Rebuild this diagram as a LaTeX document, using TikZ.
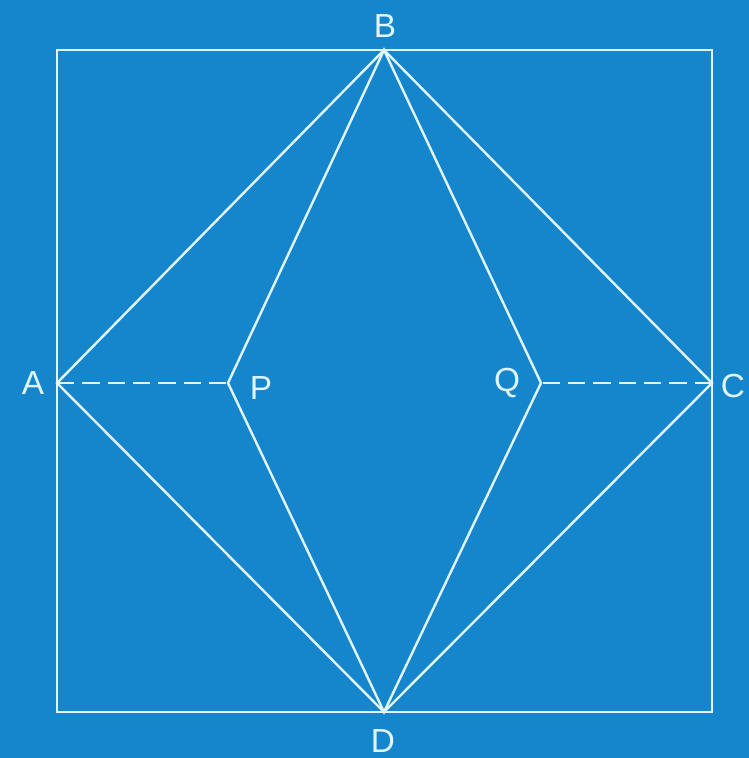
\documentclass[tikz,border=0pt]{standalone}
\usepackage{fontspec}
\setmainfont{Liberation Sans}
\usetikzlibrary{positioning,calc}
\definecolor{boardblue}{RGB}{22,134,204}
\definecolor{chalk}{RGB}{225,245,255}

\begin{document}
\begin{tikzpicture}[x=0.75pt,y=-0.75pt,font=\fontsize{25}{28}\selectfont,
    chalkline/.style={draw=chalk,line width=1.8pt},
    lbl/.style={text=chalk,inner sep=0pt}]
  % background board
  \fill[boardblue] (0,0) rectangle (749,758);
  \useasboundingbox (0,0) rectangle (749,758);
  % outer square
  \draw[chalkline] (57,50) rectangle (712,712);
  % vertices
  \coordinate (A) at (57,383);
  \coordinate (B) at (384,50);
  \coordinate (C) at (712,383);
  \coordinate (D) at (384,712);
  \coordinate (P) at (228,383);
  \coordinate (Q) at (541,383);
  % outer rhombus ABCD
  \draw[chalkline] (A) -- (B) -- (C) -- (D) -- cycle;
  % inner figure B-P-D-Q
  \draw[chalkline] (B) -- (P) -- (D) -- (Q) -- cycle;
  % dashed joins
  \draw[chalkline,dash pattern=on 13pt off 6pt] (A) -- (P);
  \draw[chalkline,dash pattern=on 13pt off 6pt] (C) -- (Q);
  % labels
  \node[lbl] (lA) at (33,383) {A};
  \node[lbl] (lB) at (385,26) {B};
  \node[lbl] (lC) at (733,386) {C};
  \node[lbl] (lD) at (383,741) {D};
  \node[lbl] (lP) at (261,388) {P};
  \node[lbl] (lQ) at (507,383) {Q};
\end{tikzpicture}
\end{document}
